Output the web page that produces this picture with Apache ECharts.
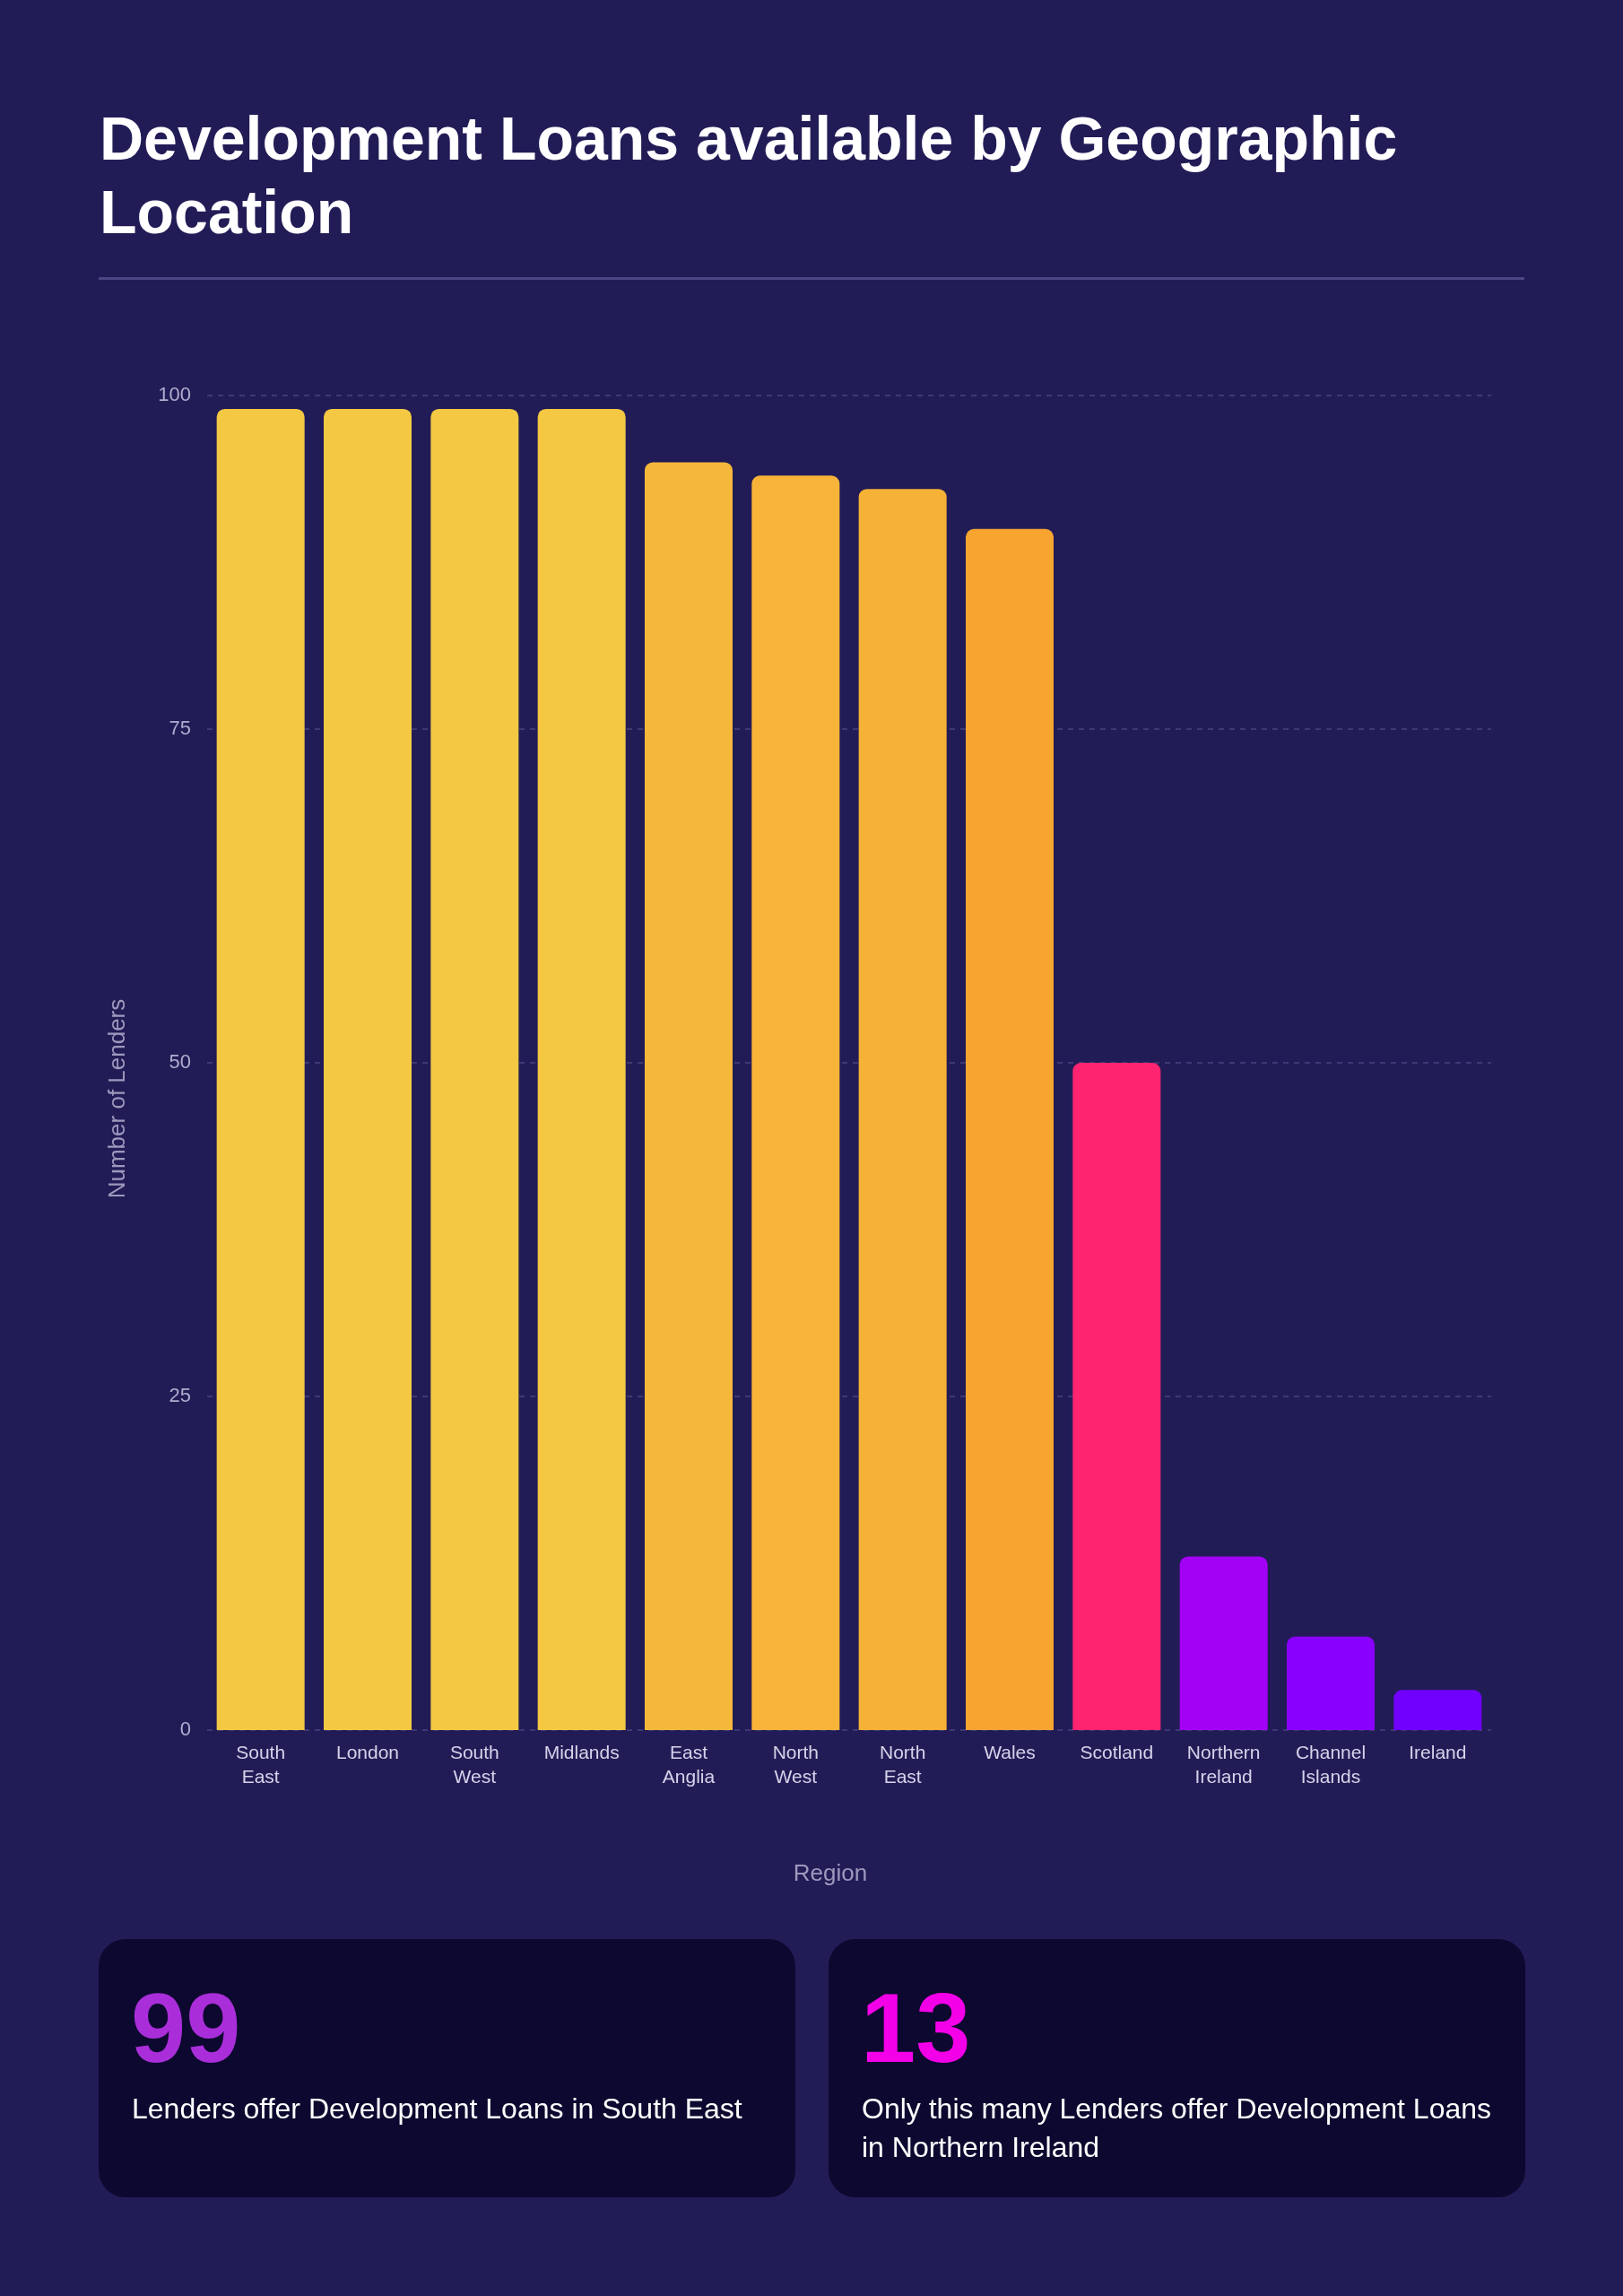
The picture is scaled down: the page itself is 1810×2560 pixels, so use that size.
<!DOCTYPE html>
<html>
<head>
<meta charset="utf-8">
<title>Development Loans available by Geographic Location</title>
<script src="https://cdn.jsdelivr.net/npm/echarts@6/dist/echarts.min.js"></script>
<style>
  html, body { margin: 0; padding: 0; background: #221c56; }
  #chart { width: 1810px; height: 2560px; }
</style>
</head>
<body>
<div id="chart"></div>
<script>
// data
const regions = ['South\nEast', 'London', 'South\nWest', 'Midlands', 'East\nAnglia', 'North\nWest',
  'North\nEast', 'Wales', 'Scotland', 'Northern\nIreland', 'Channel\nIslands', 'Ireland'];
const lenders = [99, 99, 99, 99, 95, 94, 93, 90, 50, 13, 7, 3];
const yTicks = { min: 0, max: 100, interval: 25 };

// bar colours, one per region
const barColors = ['#f4c843', '#f4c843', '#f4c843', '#f4c843', '#f6b83b', '#f7b439',
  '#f6b137', '#f7a431', '#ff2470', '#a300f6', '#8a00fe', '#7100fe'];

// stat cards
const statValues = [99, 13];
const statTexts = ['Lenders offer Development Loans in South East',
  'Only this many Lenders offer Development Loans\nin Northern Ireland'];
const statColors = ['#a92ed9', '#f300e8'];

const FONT = '"Liberation Sans", Arial, Helvetica, sans-serif';

const chart = echarts.init(document.getElementById('chart'), null, { renderer: 'canvas' });

function card(x, value, text, color) {
  return {
    type: 'group',
    left: x,
    top: 2162,
    children: [
      { type: 'rect', shape: { x: 0, y: 0, width: 777, height: 288, r: 30 }, style: { fill: '#0c082f' } },
      { type: 'text', x: 36, y: 52, style: { text: String(value), fill: color, font: 'bold 110px ' + FONT } },
      { type: 'text', x: 37, y: 170, style: { text: text, fill: '#ffffff', font: '32px ' + FONT, lineHeight: 43 } }
    ]
  };
}

const option = {
  backgroundColor: '#221c56',
  textStyle: { fontFamily: FONT },
  title: {
    text: 'Development Loans available by Geographic\nLocation',
    left: 106,
    top: 113,
    textStyle: { color: '#ffffff', fontSize: 68, fontWeight: 'bold', lineHeight: 82, fontFamily: FONT }
  },
  graphic: [
    { type: 'rect', shape: { x: 110, y: 309, width: 1590, height: 3 }, style: { fill: '#4b4784' } },
    card(110, statValues[0], statTexts[0], statColors[0]),
    card(924, statValues[1], statTexts[1], statColors[1])
  ],
  grid: { left: 231, right: 147, top: 441, bottom: 631 },
  xAxis: {
    type: 'category',
    data: regions,
    name: 'Region',
    nameLocation: 'middle',
    nameGap: 148,
    nameTextStyle: { color: '#9c99bd', fontSize: 26, padding: [0, 42, 0, 0] },
    axisLine: { show: false },
    axisTick: { show: false },
    axisLabel: { color: '#d5d3ea', fontSize: 21, lineHeight: 27, margin: 13, interval: 0 }
  },
  yAxis: {
    type: 'value',
    min: yTicks.min,
    max: yTicks.max,
    interval: yTicks.interval,
    name: 'Number of Lenders',
    nameLocation: 'middle',
    nameGap: 86,
    nameTextStyle: { color: '#9c99bd', fontSize: 26, padding: [0, 80, 0, 0] },
    axisLine: { show: false },
    axisTick: { show: false },
    axisLabel: { color: '#aeacce', fontSize: 22, margin: 18 },
    splitLine: { lineStyle: { color: '#48437f', width: 1.5, type: [6, 6] } }
  },
  series: [{
    type: 'bar',
    data: lenders.map((v, i) => ({ value: v, itemStyle: { color: barColors[i] } })),
    barWidth: 98,
    itemStyle: { borderRadius: [9, 9, 0, 0] },
    animation: false
  }]
};

chart.setOption(option);
</script>
</body>
</html>
